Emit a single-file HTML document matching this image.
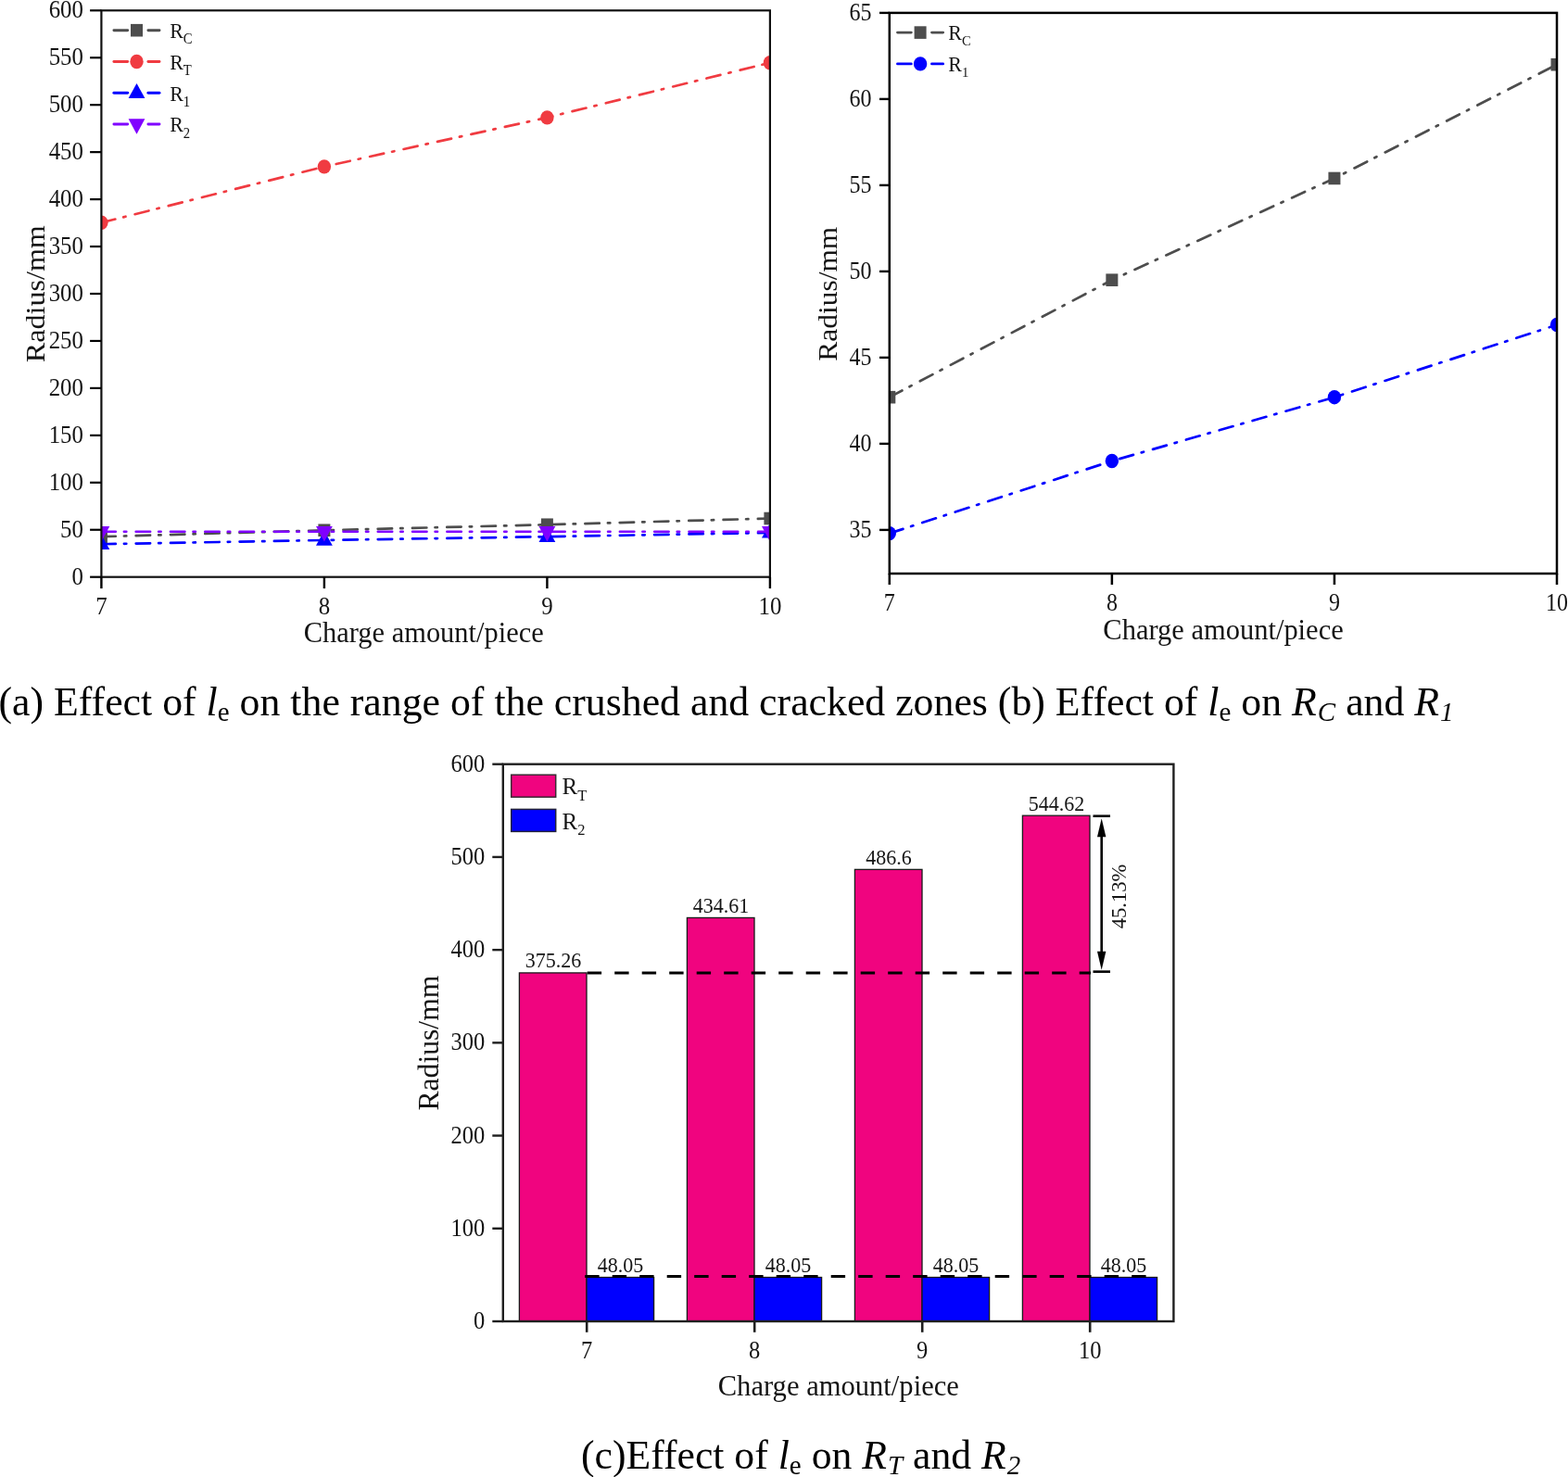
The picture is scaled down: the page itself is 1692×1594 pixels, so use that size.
<!DOCTYPE html>
<html lang="en">
<head>
<meta charset="utf-8">
<title>Effect of charge amount on crushed and cracked zones</title>
<style>
html,body{margin:0;padding:0;background:#fff;}
body{width:1692px;height:1594px;overflow:hidden;}
svg{display:block;}
text{font-family:"Liberation Serif","Times New Roman",serif;fill:#000;}
.chart text{fill:#141414;}
</style>
</head>
<body>
<svg width="1692" height="1594" viewBox="0 0 1692 1594" role="img" aria-label="Effect of charge amount on crushed and cracked zone radii">
<defs>
<clipPath id="ca"><rect x="109.4" y="11.3" width="722.5" height="611.4"/></clipPath>
<clipPath id="cb"><rect x="959.8" y="13.9" width="721.2" height="605.1"/></clipPath>
</defs>
<rect width="1692" height="1594" fill="#fff"/>
<g id="chart-a" class="chart">
<g clip-path="url(#ca)">
<polyline points="109.4,579.19 349.9,572.26 590.4,566.25 830.9,559.52" fill="none" stroke="#4d4d4d" stroke-width="2.7" stroke-linecap="round" stroke-dasharray="15.4 9.1 2.4 10.4"/>
<rect x="102.9" y="572.39" width="13" height="13.6" fill="#4d4d4d"/>
<rect x="343.4" y="565.46" width="13" height="13.6" fill="#4d4d4d"/>
<rect x="583.9" y="559.45" width="13" height="13.6" fill="#4d4d4d"/>
<rect x="824.4" y="552.72" width="13" height="13.6" fill="#4d4d4d"/>
</g>
<g clip-path="url(#ca)">
<polyline points="109.4,240.31 349.9,179.83 590.4,126.85 830.9,67.73" fill="none" stroke="#f03b41" stroke-width="2.7" stroke-linecap="round" stroke-dasharray="15.4 9.1 2.4 10.4"/>
<ellipse cx="109.4" cy="240.31" rx="7.2" ry="7.7" fill="#f03b41"/>
<ellipse cx="349.9" cy="179.83" rx="7.2" ry="7.7" fill="#f03b41"/>
<ellipse cx="590.4" cy="126.85" rx="7.2" ry="7.7" fill="#f03b41"/>
<ellipse cx="830.9" cy="67.73" rx="7.2" ry="7.7" fill="#f03b41"/>
</g>
<g clip-path="url(#ca)">
<polyline points="109.4,587.24 349.9,582.96 590.4,579.19 830.9,574.91" fill="none" stroke="#0000ff" stroke-width="2.7" stroke-linecap="round" stroke-dasharray="15.4 9.1 2.4 10.4"/>
<polygon points="109.4,576.98 118.3,592.94 100.5,592.94" fill="#0000ff"/>
<polygon points="349.9,572.7 358.8,588.66 341,588.66" fill="#0000ff"/>
<polygon points="590.4,568.93 599.3,584.89 581.5,584.89" fill="#0000ff"/>
<polygon points="830.9,564.65 839.8,580.61 822,580.61" fill="#0000ff"/>
</g>
<g clip-path="url(#ca)">
<polyline points="109.4,573.74 349.9,573.74 590.4,573.74 830.9,573.74" fill="none" stroke="#8000ff" stroke-width="2.7" stroke-linecap="round" stroke-dasharray="15.4 9.1 2.4 10.4"/>
<polygon points="109.4,584.57 118.3,568.04 100.5,568.04" fill="#8000ff"/>
<polygon points="349.9,584.57 358.8,568.04 341,568.04" fill="#8000ff"/>
<polygon points="590.4,584.57 599.3,568.04 581.5,568.04" fill="#8000ff"/>
<polygon points="830.9,584.57 839.8,568.04 822,568.04" fill="#8000ff"/>
</g>
<rect x="109.4" y="11.3" width="721.5" height="611.4" fill="none" stroke="#111" stroke-width="2.2"/>
<line x1="97.1" y1="622.7" x2="109.4" y2="622.7" stroke="#000" stroke-width="2.2"/>
<text transform="translate(90 630.8) scale(1 1.1)" font-size="24.9" text-anchor="end">0</text>
<line x1="97.1" y1="571.75" x2="109.4" y2="571.75" stroke="#000" stroke-width="2.2"/>
<text transform="translate(90 579.85) scale(1 1.1)" font-size="24.9" text-anchor="end">50</text>
<line x1="97.1" y1="520.8" x2="109.4" y2="520.8" stroke="#000" stroke-width="2.2"/>
<text transform="translate(90 528.9) scale(1 1.1)" font-size="24.9" text-anchor="end">100</text>
<line x1="97.1" y1="469.85" x2="109.4" y2="469.85" stroke="#000" stroke-width="2.2"/>
<text transform="translate(90 477.95) scale(1 1.1)" font-size="24.9" text-anchor="end">150</text>
<line x1="97.1" y1="418.9" x2="109.4" y2="418.9" stroke="#000" stroke-width="2.2"/>
<text transform="translate(90 427) scale(1 1.1)" font-size="24.9" text-anchor="end">200</text>
<line x1="97.1" y1="367.95" x2="109.4" y2="367.95" stroke="#000" stroke-width="2.2"/>
<text transform="translate(90 376.05) scale(1 1.1)" font-size="24.9" text-anchor="end">250</text>
<line x1="97.1" y1="317" x2="109.4" y2="317" stroke="#000" stroke-width="2.2"/>
<text transform="translate(90 325.1) scale(1 1.1)" font-size="24.9" text-anchor="end">300</text>
<line x1="97.1" y1="266.05" x2="109.4" y2="266.05" stroke="#000" stroke-width="2.2"/>
<text transform="translate(90 274.15) scale(1 1.1)" font-size="24.9" text-anchor="end">350</text>
<line x1="97.1" y1="215.1" x2="109.4" y2="215.1" stroke="#000" stroke-width="2.2"/>
<text transform="translate(90 223.2) scale(1 1.1)" font-size="24.9" text-anchor="end">400</text>
<line x1="97.1" y1="164.15" x2="109.4" y2="164.15" stroke="#000" stroke-width="2.2"/>
<text transform="translate(90 172.25) scale(1 1.1)" font-size="24.9" text-anchor="end">450</text>
<line x1="97.1" y1="113.2" x2="109.4" y2="113.2" stroke="#000" stroke-width="2.2"/>
<text transform="translate(90 121.3) scale(1 1.1)" font-size="24.9" text-anchor="end">500</text>
<line x1="97.1" y1="62.25" x2="109.4" y2="62.25" stroke="#000" stroke-width="2.2"/>
<text transform="translate(90 70.35) scale(1 1.1)" font-size="24.9" text-anchor="end">550</text>
<line x1="97.1" y1="11.3" x2="109.4" y2="11.3" stroke="#000" stroke-width="2.2"/>
<text transform="translate(90 19.4) scale(1 1.1)" font-size="24.9" text-anchor="end">600</text>
<line x1="109.4" y1="622.7" x2="109.4" y2="635.1" stroke="#000" stroke-width="2.4"/>
<text transform="translate(109.4 663.3) scale(1 1.1)" font-size="24.9" text-anchor="middle">7</text>
<line x1="349.9" y1="622.7" x2="349.9" y2="635.1" stroke="#000" stroke-width="2.4"/>
<text transform="translate(349.9 663.3) scale(1 1.1)" font-size="24.9" text-anchor="middle">8</text>
<line x1="590.4" y1="622.7" x2="590.4" y2="635.1" stroke="#000" stroke-width="2.4"/>
<text transform="translate(590.4 663.3) scale(1 1.1)" font-size="24.9" text-anchor="middle">9</text>
<line x1="830.9" y1="622.7" x2="830.9" y2="635.1" stroke="#000" stroke-width="2.4"/>
<text transform="translate(830.9 663.3) scale(1 1.1)" font-size="24.9" text-anchor="middle">10</text>
<text transform="translate(457.2 692.6) scale(1 1.02)" font-size="30.45" text-anchor="middle">Charge amount/piece</text>
<text transform="translate(47.5 317.2) scale(0.97 1.05) rotate(-90)" font-size="30.6" text-anchor="middle">Radius/mm</text>
<line x1="122.9" y1="32.7" x2="137.7" y2="32.7" stroke="#4d4d4d" stroke-width="2.9" stroke-linecap="round"/>
<line x1="159.9" y1="32.7" x2="172" y2="32.7" stroke="#4d4d4d" stroke-width="2.9" stroke-linecap="round"/>
<rect x="141" y="25.9" width="13" height="13.6" fill="#4d4d4d"/>
<text transform="translate(183.2 41) scale(1 1.09)" font-size="22">R<tspan font-size="14.7" dy="5.8">C</tspan></text>
<line x1="122.9" y1="66.45" x2="137.7" y2="66.45" stroke="#f03b41" stroke-width="2.9" stroke-linecap="round"/>
<line x1="159.9" y1="66.45" x2="172" y2="66.45" stroke="#f03b41" stroke-width="2.9" stroke-linecap="round"/>
<ellipse cx="147.5" cy="66.45" rx="7.2" ry="7.7" fill="#f03b41"/>
<text transform="translate(183.2 74.75) scale(1 1.09)" font-size="22">R<tspan font-size="14.7" dy="5.8">T</tspan></text>
<line x1="122.9" y1="100.2" x2="137.7" y2="100.2" stroke="#0000ff" stroke-width="2.9" stroke-linecap="round"/>
<line x1="159.9" y1="100.2" x2="172" y2="100.2" stroke="#0000ff" stroke-width="2.9" stroke-linecap="round"/>
<polygon points="147.5,89.94 156.4,105.9 138.6,105.9" fill="#0000ff"/>
<text transform="translate(183.2 108.5) scale(1 1.09)" font-size="22">R<tspan font-size="14.7" dy="5.8">1</tspan></text>
<line x1="122.9" y1="133.95" x2="137.7" y2="133.95" stroke="#8000ff" stroke-width="2.9" stroke-linecap="round"/>
<line x1="159.9" y1="133.95" x2="172" y2="133.95" stroke="#8000ff" stroke-width="2.9" stroke-linecap="round"/>
<polygon points="147.5,144.78 156.4,128.25 138.6,128.25" fill="#8000ff"/>
<text transform="translate(183.2 142.25) scale(1 1.09)" font-size="22">R<tspan font-size="14.7" dy="5.8">2</tspan></text>
</g>
<g id="chart-b" class="chart">
<g clip-path="url(#cb)">
<polyline points="959.8,428.68 1199.87,302.2 1439.93,192.46 1680,69.7" fill="none" stroke="#4d4d4d" stroke-width="2.7" stroke-linecap="round" stroke-dasharray="15.4 9.1 2.4 10.4"/>
<rect x="953.3" y="421.88" width="13" height="13.6" fill="#4d4d4d"/>
<rect x="1193.37" y="295.4" width="13" height="13.6" fill="#4d4d4d"/>
<rect x="1433.43" y="185.66" width="13" height="13.6" fill="#4d4d4d"/>
<rect x="1673.5" y="62.9" width="13" height="13.6" fill="#4d4d4d"/>
</g>
<g clip-path="url(#cb)">
<polyline points="959.8,575.62 1199.87,497.5 1439.93,428.68 1680,350.56" fill="none" stroke="#0000ff" stroke-width="2.7" stroke-linecap="round" stroke-dasharray="15.4 9.1 2.4 10.4"/>
<ellipse cx="959.8" cy="575.62" rx="7.2" ry="7.7" fill="#0000ff"/>
<ellipse cx="1199.87" cy="497.5" rx="7.2" ry="7.7" fill="#0000ff"/>
<ellipse cx="1439.93" cy="428.68" rx="7.2" ry="7.7" fill="#0000ff"/>
<ellipse cx="1680" cy="350.56" rx="7.2" ry="7.7" fill="#0000ff"/>
</g>
<rect x="959.8" y="13.9" width="720.2" height="605.1" fill="none" stroke="#000" stroke-width="2.5"/>
<line x1="949" y1="571.9" x2="959.8" y2="571.9" stroke="#000" stroke-width="2.4"/>
<text transform="translate(940.5 579.8) scale(1 1.125)" font-size="24" text-anchor="end">35</text>
<line x1="949" y1="478.9" x2="959.8" y2="478.9" stroke="#000" stroke-width="2.4"/>
<text transform="translate(940.5 486.8) scale(1 1.125)" font-size="24" text-anchor="end">40</text>
<line x1="949" y1="385.9" x2="959.8" y2="385.9" stroke="#000" stroke-width="2.4"/>
<text transform="translate(940.5 393.8) scale(1 1.125)" font-size="24" text-anchor="end">45</text>
<line x1="949" y1="292.9" x2="959.8" y2="292.9" stroke="#000" stroke-width="2.4"/>
<text transform="translate(940.5 300.8) scale(1 1.125)" font-size="24" text-anchor="end">50</text>
<line x1="949" y1="199.9" x2="959.8" y2="199.9" stroke="#000" stroke-width="2.4"/>
<text transform="translate(940.5 207.8) scale(1 1.125)" font-size="24" text-anchor="end">55</text>
<line x1="949" y1="106.9" x2="959.8" y2="106.9" stroke="#000" stroke-width="2.4"/>
<text transform="translate(940.5 114.8) scale(1 1.125)" font-size="24" text-anchor="end">60</text>
<line x1="949" y1="13.9" x2="959.8" y2="13.9" stroke="#000" stroke-width="2.4"/>
<text transform="translate(940.5 21.8) scale(1 1.125)" font-size="24" text-anchor="end">65</text>
<line x1="959.8" y1="619" x2="959.8" y2="631" stroke="#000" stroke-width="2.5"/>
<text transform="translate(959.8 658.5) scale(1 1.125)" font-size="24" text-anchor="middle">7</text>
<line x1="1199.87" y1="619" x2="1199.87" y2="631" stroke="#000" stroke-width="2.5"/>
<text transform="translate(1199.87 658.5) scale(1 1.125)" font-size="24" text-anchor="middle">8</text>
<line x1="1439.93" y1="619" x2="1439.93" y2="631" stroke="#000" stroke-width="2.5"/>
<text transform="translate(1439.93 658.5) scale(1 1.125)" font-size="24" text-anchor="middle">9</text>
<line x1="1680" y1="619" x2="1680" y2="631" stroke="#000" stroke-width="2.5"/>
<text transform="translate(1680 658.5) scale(1 1.125)" font-size="24" text-anchor="middle">10</text>
<text transform="translate(1320 690.3) scale(1 1.045)" font-size="30.5" text-anchor="middle">Charge amount/piece</text>
<text transform="translate(902.7 317.2) scale(0.96 1.028) rotate(-90)" font-size="30.6" text-anchor="middle">Radius/mm</text>
<line x1="968.5" y1="35.1" x2="983.3" y2="35.1" stroke="#4d4d4d" stroke-width="2.9" stroke-linecap="round"/>
<line x1="1005.5" y1="35.1" x2="1017.6" y2="35.1" stroke="#4d4d4d" stroke-width="2.9" stroke-linecap="round"/>
<rect x="986.6" y="28.3" width="13" height="13.6" fill="#4d4d4d"/>
<text transform="translate(1023.2 42.9) scale(1 1.06)" font-size="22">R<tspan font-size="14.7" dy="5.8">C</tspan></text>
<line x1="968.5" y1="68.9" x2="983.3" y2="68.9" stroke="#0000ff" stroke-width="2.9" stroke-linecap="round"/>
<line x1="1005.5" y1="68.9" x2="1017.6" y2="68.9" stroke="#0000ff" stroke-width="2.9" stroke-linecap="round"/>
<ellipse cx="993.1" cy="68.9" rx="7.2" ry="7.7" fill="#0000ff"/>
<text transform="translate(1023.2 76.7) scale(1 1.06)" font-size="22">R<tspan font-size="14.7" dy="5.8">1</tspan></text>
</g>
<g id="chart-c" class="chart">
<rect x="560.4" y="1049.93" width="72.6" height="376.07" fill="#f0047f" stroke="#1a1a1a" stroke-width="1.3"/>
<text transform="translate(597 1044.43) scale(1 1.05)" font-size="22" text-anchor="middle">375.26</text>
<rect x="633" y="1378.5" width="72.6" height="47.5" fill="#0000ff" stroke="#1a1a1a" stroke-width="1.3"/>
<text transform="translate(669.6 1373) scale(1 1.05)" font-size="22" text-anchor="middle">48.05</text>
<rect x="741.4" y="990.45" width="72.6" height="435.55" fill="#f0047f" stroke="#1a1a1a" stroke-width="1.3"/>
<text transform="translate(778 984.95) scale(1 1.05)" font-size="22" text-anchor="middle">434.61</text>
<rect x="814" y="1378.5" width="72.6" height="47.5" fill="#0000ff" stroke="#1a1a1a" stroke-width="1.3"/>
<text transform="translate(850.6 1373) scale(1 1.05)" font-size="22" text-anchor="middle">48.05</text>
<rect x="922.4" y="938.35" width="72.6" height="487.65" fill="#f0047f" stroke="#1a1a1a" stroke-width="1.3"/>
<text transform="translate(959 932.85) scale(1 1.05)" font-size="22" text-anchor="middle">486.6</text>
<rect x="995" y="1378.5" width="72.6" height="47.5" fill="#0000ff" stroke="#1a1a1a" stroke-width="1.3"/>
<text transform="translate(1031.6 1373) scale(1 1.05)" font-size="22" text-anchor="middle">48.05</text>
<rect x="1103.4" y="880.2" width="72.6" height="545.8" fill="#f0047f" stroke="#1a1a1a" stroke-width="1.3"/>
<text transform="translate(1140 874.7) scale(1 1.05)" font-size="22" text-anchor="middle">544.62</text>
<rect x="1176" y="1378.5" width="72.6" height="47.5" fill="#0000ff" stroke="#1a1a1a" stroke-width="1.3"/>
<text transform="translate(1212.6 1373) scale(1 1.05)" font-size="22" text-anchor="middle">48.05</text>
<line x1="633.7" y1="1049.93" x2="1177" y2="1049.93" stroke="#000" stroke-width="3" stroke-dasharray="15.4 14.1"/>
<line x1="631.2" y1="1377.5" x2="1250" y2="1377.5" stroke="#000" stroke-width="3" stroke-dasharray="15.4 14.1"/>
<rect x="542.8" y="824.7" width="723.6" height="601.3" fill="none" stroke="#1f1f1f" stroke-width="2.4"/>
<line x1="531.3" y1="1426" x2="542.8" y2="1426" stroke="#1f1f1f" stroke-width="2.4"/>
<text transform="translate(523.3 1434) scale(1 1.08)" font-size="24.5" text-anchor="end">0</text>
<line x1="531.3" y1="1325.78" x2="542.8" y2="1325.78" stroke="#1f1f1f" stroke-width="2.4"/>
<text transform="translate(523.3 1333.78) scale(1 1.08)" font-size="24.5" text-anchor="end">100</text>
<line x1="531.3" y1="1225.57" x2="542.8" y2="1225.57" stroke="#1f1f1f" stroke-width="2.4"/>
<text transform="translate(523.3 1233.57) scale(1 1.08)" font-size="24.5" text-anchor="end">200</text>
<line x1="531.3" y1="1125.35" x2="542.8" y2="1125.35" stroke="#1f1f1f" stroke-width="2.4"/>
<text transform="translate(523.3 1133.35) scale(1 1.08)" font-size="24.5" text-anchor="end">300</text>
<line x1="531.3" y1="1025.13" x2="542.8" y2="1025.13" stroke="#1f1f1f" stroke-width="2.4"/>
<text transform="translate(523.3 1033.13) scale(1 1.08)" font-size="24.5" text-anchor="end">400</text>
<line x1="531.3" y1="924.92" x2="542.8" y2="924.92" stroke="#1f1f1f" stroke-width="2.4"/>
<text transform="translate(523.3 932.92) scale(1 1.08)" font-size="24.5" text-anchor="end">500</text>
<line x1="531.3" y1="824.7" x2="542.8" y2="824.7" stroke="#1f1f1f" stroke-width="2.4"/>
<text transform="translate(523.3 832.7) scale(1 1.08)" font-size="24.5" text-anchor="end">600</text>
<line x1="633.2" y1="1426" x2="633.2" y2="1437.8" stroke="#1f1f1f" stroke-width="2.6"/>
<text transform="translate(633.2 1465.6) scale(1 1.1)" font-size="24.5" text-anchor="middle">7</text>
<line x1="814.2" y1="1426" x2="814.2" y2="1437.8" stroke="#1f1f1f" stroke-width="2.6"/>
<text transform="translate(814.2 1465.6) scale(1 1.1)" font-size="24.5" text-anchor="middle">8</text>
<line x1="995.2" y1="1426" x2="995.2" y2="1437.8" stroke="#1f1f1f" stroke-width="2.6"/>
<text transform="translate(995.2 1465.6) scale(1 1.1)" font-size="24.5" text-anchor="middle">9</text>
<line x1="1176.2" y1="1426" x2="1176.2" y2="1437.8" stroke="#1f1f1f" stroke-width="2.6"/>
<text transform="translate(1176.2 1465.6) scale(1 1.1)" font-size="24.5" text-anchor="middle">10</text>
<text transform="translate(904.8 1505.6) scale(1 1.045)" font-size="30.6" text-anchor="middle">Charge amount/piece</text>
<text transform="translate(473.4 1125.6) scale(1 1.035) rotate(-90)" font-size="30.6" text-anchor="middle">Radius/mm</text>
<rect x="551.7" y="836.2" width="48" height="24" fill="#f0047f" stroke="#3a2a33" stroke-width="1.5"/>
<text transform="translate(606.5 857.4) scale(1 1.03)" font-size="25">R<tspan font-size="16.5" dy="6.2">T</tspan></text>
<rect x="551.7" y="873.4" width="48" height="24" fill="#0000ff" stroke="#22223a" stroke-width="1.5"/>
<text transform="translate(606.5 894.6) scale(1 1.03)" font-size="25">R<tspan font-size="16.5" dy="6.2">2</tspan></text>
<line x1="1179.5" y1="880.7" x2="1198" y2="880.7" stroke="#000" stroke-width="2.6"/>
<line x1="1179.5" y1="1048.63" x2="1198" y2="1048.63" stroke="#000" stroke-width="2.6"/>
<line x1="1188.7" y1="898.2" x2="1188.7" y2="1031.93" stroke="#000" stroke-width="2.6"/>
<polygon points="1188.7,883.2 1193.4,903.2 1184,903.2"/>
<polygon points="1188.7,1046.73 1193.4,1026.73 1184,1026.73"/>
<text transform="translate(1214.5 967.5) scale(1.03 1.05) rotate(-90)" font-size="21.5" text-anchor="middle">45.13%</text>
</g>
<text transform="translate(-1.5 772) scale(1 1.035)" font-size="43.8" xml:space="preserve">(a) Effect of <tspan font-style="italic">l</tspan><tspan font-size="29" dy="6">e</tspan><tspan dy="-6"> on the range of the crushed and cracked zones (b) Effect of </tspan><tspan font-style="italic">l</tspan><tspan font-size="29" dy="6">e</tspan><tspan dy="-6"> on </tspan><tspan font-style="italic">R</tspan><tspan font-size="29" dx="1" dy="6" font-style="italic">C</tspan><tspan dy="-6"> and </tspan><tspan font-style="italic">R</tspan><tspan font-size="29" dx="1" dy="6" font-style="italic">1</tspan></text>
<text transform="translate(627 1584.5) scale(1 1.035)" font-size="43.7" xml:space="preserve">(c)Effect of <tspan font-style="italic">l</tspan><tspan font-size="29" dy="6">e</tspan><tspan dy="-6"> on </tspan><tspan font-style="italic">R</tspan><tspan font-size="29" dx="1" dy="6" font-style="italic">T</tspan><tspan dy="-6"> and </tspan><tspan font-style="italic">R</tspan><tspan font-size="29" dx="1" dy="6" font-style="italic">2</tspan></text>
</svg>
</body>
</html>
